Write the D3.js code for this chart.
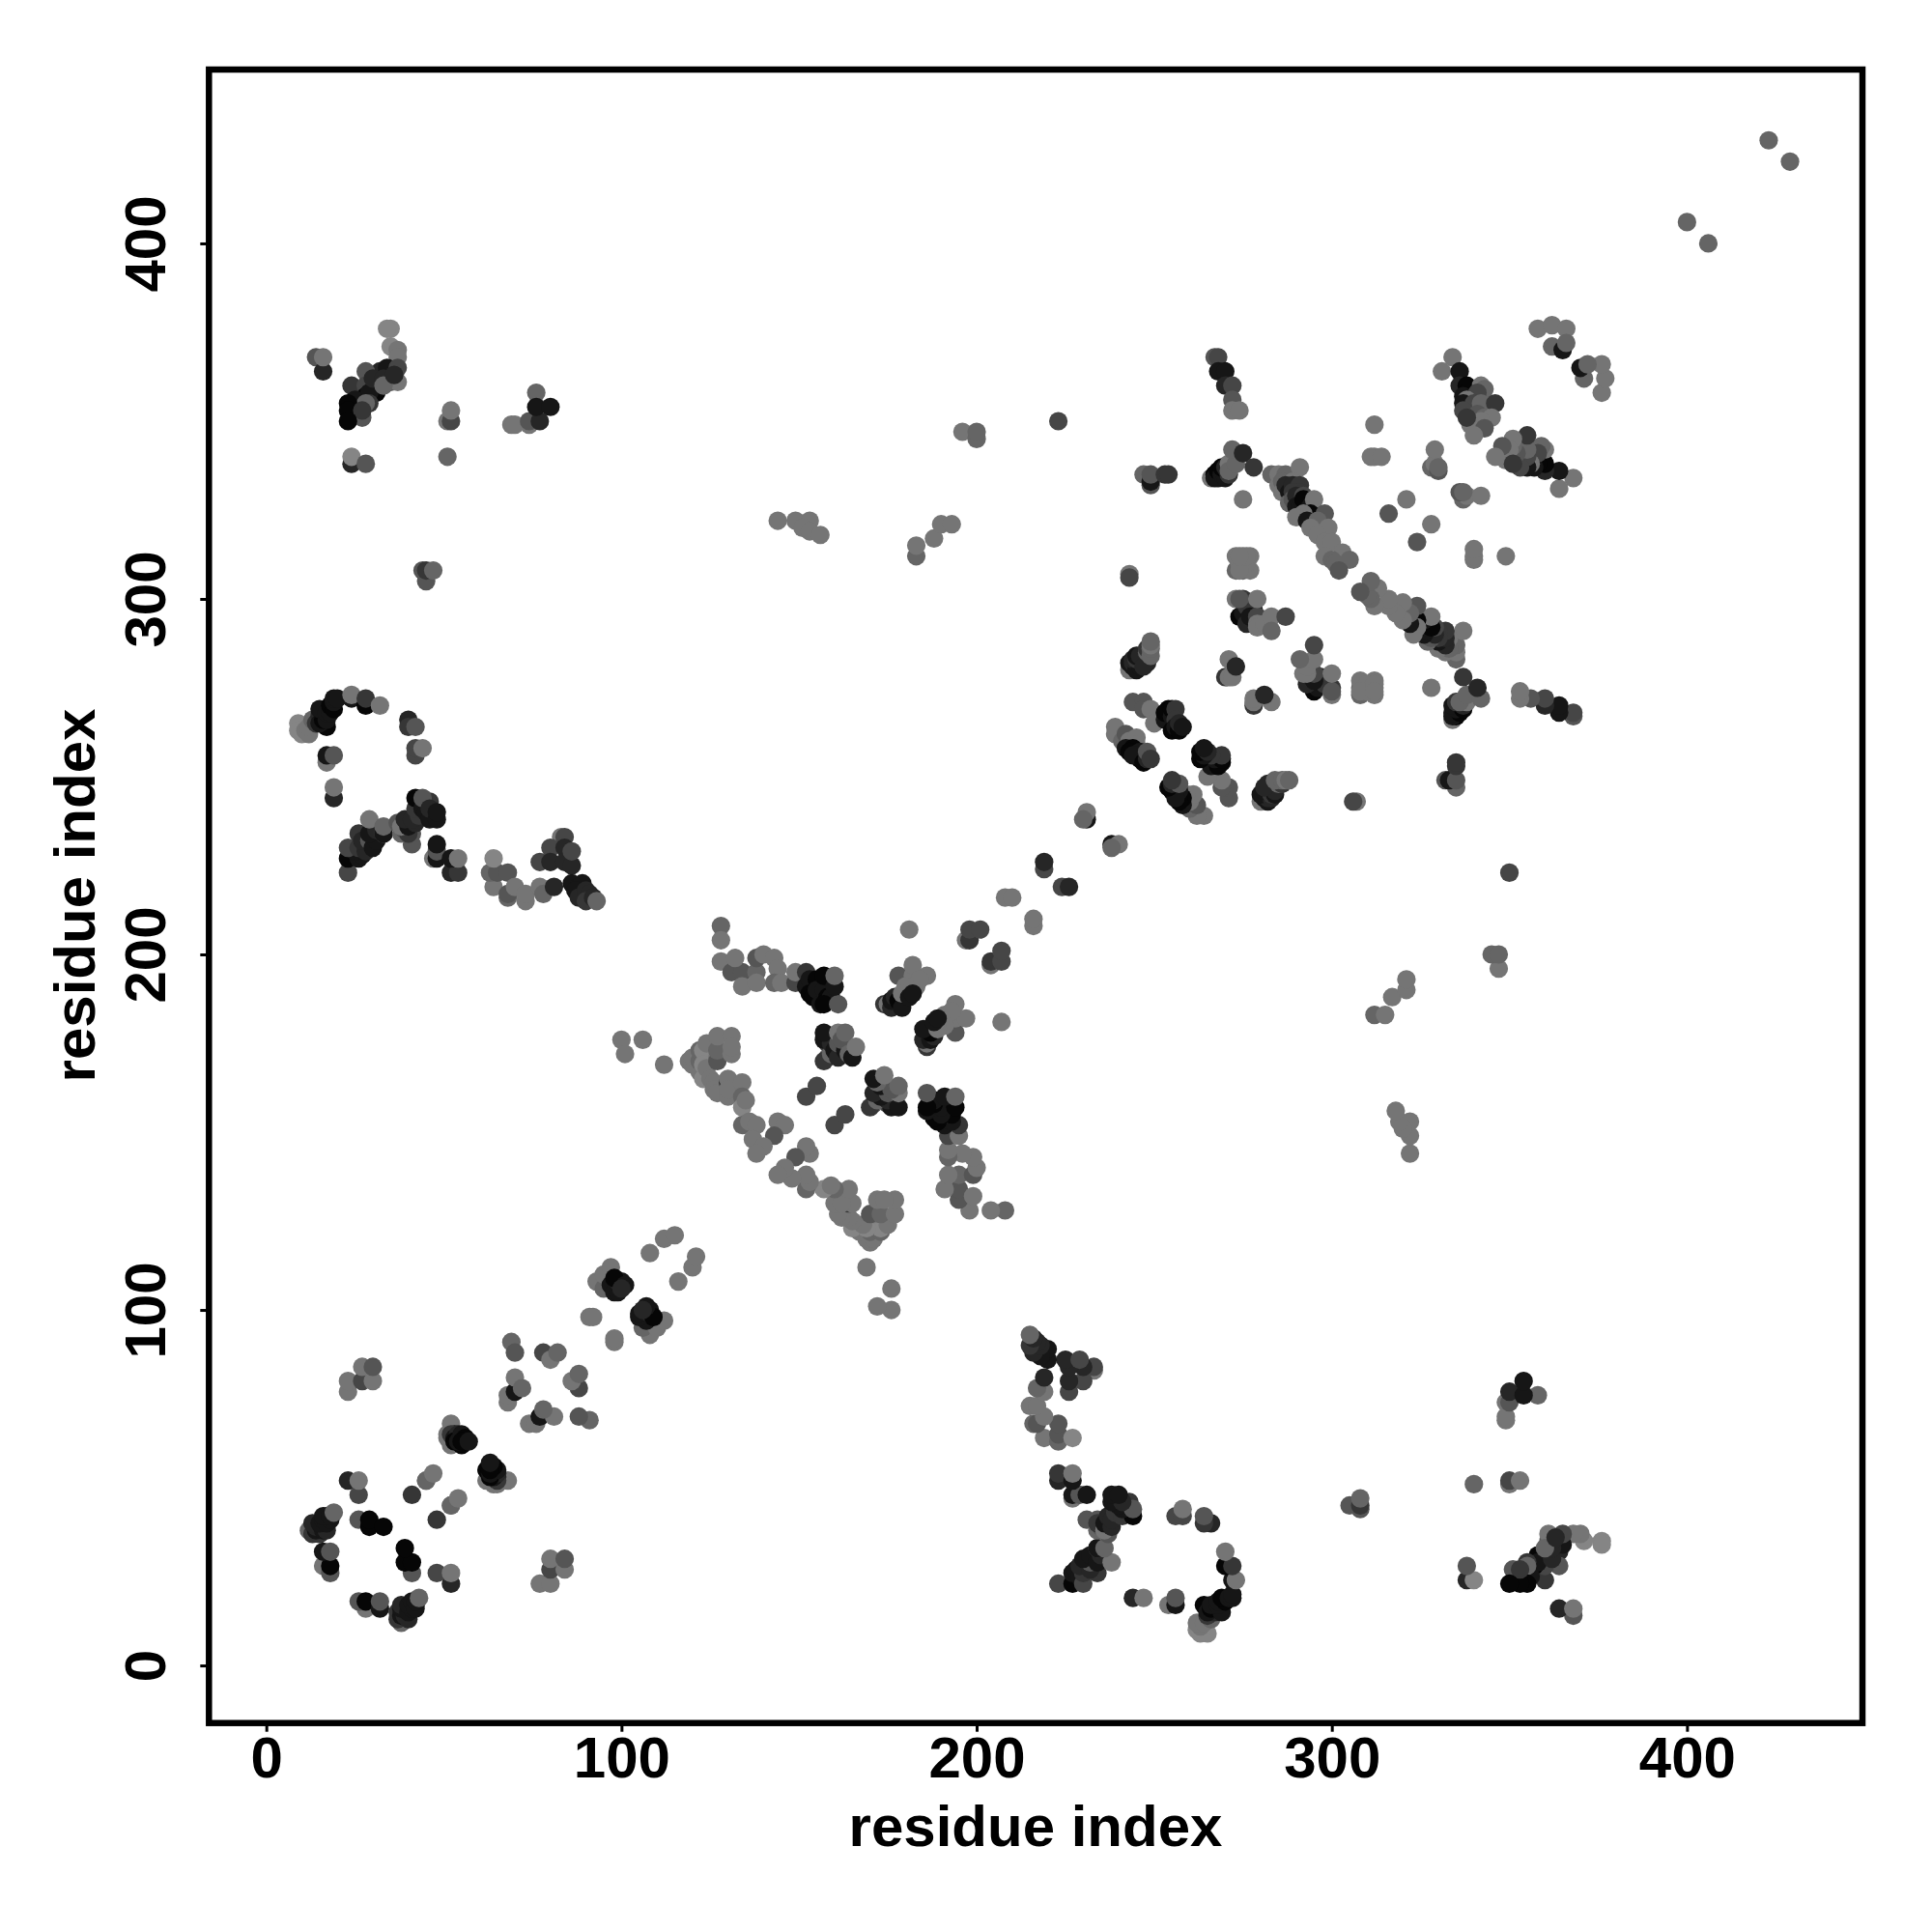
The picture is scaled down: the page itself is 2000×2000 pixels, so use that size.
<!DOCTYPE html>
<html><head><meta charset="utf-8">
<script src="https://cdn.jsdelivr.net/npm/d3@7"></script>
<style>html,body{margin:0;padding:0;background:#fff}svg{display:block}text{font-family:"Liberation Sans",Arial,sans-serif;font-weight:700;fill:#000}</style>
</head><body><svg id="c" width="2000" height="2000"></svg>
<script>
// Each contact: [residue i, residue j, shade level 0 (black) .. 8 (mid grey)]. Mirrored at draw time.
const xyTicks=[0,100,200,300,400];
const axisLabel="residue index";
const nTermVsCTerm=[[14,368,5],[16,364,2],[16,368,7],[35,376,8],[34,376,8],[35,371,8],[37,370,7],[37,368,7],[32,364,2],[34,365,1],[37,365,4],[35,361,5],[37,361,7],[28,364,5],[24,360,3],[28,360,4],[31,360,0],[31,358,0],[28,357,0],[26,354,1],[29,358,1],[30,362,2],[33,362,2],[26,352,2],[25,356,1],[29,355,3],[27,351,5],[33,360,6],[36,363,2],[28,355,6],[23,355,0],[23,353,0],[27,353,3],[23,350,0],[24,338,2],[24,340,8],[28,338,5],[51,350,7],[52,350,4],[52,353,7],[51,340,6],[76,358,6],[74,349,7],[69,349,7],[70,349,7],[74,350,5],[77,350,2],[76,354,1],[80,354,1],[44,308,5],[45,305,5],[45,308,3],[47,308,6]];
const nTermVsMiddle=[[9,265,8],[10,262,8],[9,263,8],[11,263,7],[12,262,7],[12,264,7],[13,266,6],[14,266,6],[14,265,3],[17,264,0],[15,267,2],[15,265,1],[16,266,0],[15,269,1],[17,266,1],[17,268,1],[18,268,1],[18,270,0],[19,269,0],[19,271,1],[19,272,1],[20,272,1],[24,272,1],[24,273,7],[28,270,0],[28,272,3],[32,270,7],[40,266,2],[40,264,3],[42,264,5],[42,256,4],[42,258,4],[44,258,7],[17,254,7],[17,256,1],[19,256,5],[19,244,2],[19,247,7],[23,223,4],[23,227,0],[26,227,1],[27,228,1],[25,229,1],[23,230,4],[26,230,3],[28,229,2],[26,234,3],[27,232,2],[29,232,5],[30,230,1],[31,232,1],[29,234,1],[31,235,2],[29,238,7],[33,234,5],[33,234,1],[33,236,6],[41,231,5],[38,234,6],[41,234,5],[39,235,5],[40,234,3],[37,237,5],[38,236,7],[40,236,1],[42,237,2],[39,238,2],[41,238,2],[43,239,3],[42,241,3],[42,244,0],[44,241,1],[45,240,1],[46,238,1],[46,243,3],[44,244,5],[46,241,2],[48,238,1],[48,240,1],[47,227,7],[48,227,1],[48,229,5],[48,231,1],[52,223,2],[54,223,3],[52,227,1],[54,227,7],[64,219,7],[63,223,6],[65,223,5],[68,223,5],[64,227,8],[68,216,6],[68,217,5],[70,219,7],[73,215,7],[73,217,7],[77,219,7],[78,217,6],[81,219,2],[83,233,7],[84,233,4],[80,230,4],[84,230,2],[77,226,4],[80,226,2],[84,226,2],[86,225,2],[86,229,4],[86,220,1],[88,219,1],[89,220,1],[87,218,1],[88,216,2],[90,218,2],[91,217,2],[90,215,3],[92,216,2],[93,215,6]];
const nearDiagonalLow=[[12,38,6],[13,37,3],[15,37,3],[14,38,1],[14,39,2],[13,40,2],[16,38,1],[17,38,2],[15,40,1],[16,41,1],[17,40,1],[17,42,1],[18,41,1],[16,42,1],[18,42,1],[19,43,6],[16,28,7],[18,26,5],[18,28,0],[16,32,1],[18,32,5],[26,41,5],[29,39,0],[29,41,0],[33,39,0],[23,52,2],[26,48,4],[26,52,7],[41,48,3],[45,52,7],[45,52,6],[47,54,7],[51,64,7],[51,65,7],[52,62,7],[52,68,7],[53,65,1],[52,65,3],[53,64,1],[54,65,2],[55,62,0],[53,63,0],[54,63,1],[55,65,1],[56,64,0],[55,63,0],[57,63,1],[23,77,7],[23,80,7],[27,80,4],[27,84,7],[30,80,7],[30,84,5],[69,91,6],[70,88,5],[78,88,4],[80,86,7],[82,88,6],[68,74,7],[68,76,7],[70,77,1],[70,81,7],[72,78,6],[91,98,7],[92,98,7],[93,108,7],[95,106,6],[95,110,7],[97,112,7],[97,107,1],[98,105,1],[99,105,1],[99,108,2],[100,108,1],[98,109,0],[101,107,1],[100,106,2],[108,116,7],[112,120,7],[115,121,7]];
const centralUpper=[[100,176,7],[101,172,7],[106,176,7],[112,169,7],[119,170,7],[120,169,7],[120,171,7],[122,167,7],[122,170,6],[122,173,6],[123,173,8],[123,169,8],[123,165,8],[124,168,7],[124,175,7],[125,165,7],[126,164,7],[126,162,7],[127,161,7],[127,171,7],[127,170,5],[127,173,6],[127,177,7],[131,177,7],[131,172,7],[131,174,7],[130,164,3],[130,165,7],[130,160,7],[130,162,7],[134,164,7],[134,160,6],[134,157,8],[134,152,6],[135,159,7],[136,153,7],[138,152,7],[144,153,7],[146,152,7],[143,149,5],[137,148,7],[140,146,7],[138,144,7],[128,208,6],[128,204,7],[128,198,7],[131,195,5],[134,195,5],[134,191,7],[132,199,7],[138,195,6],[138,192,7],[138,199,5],[140,200,7],[143,199,7],[144,196,7],[143,192,6],[145,192,7],[149,192,4],[149,195,7],[152,191,1],[152,195,3],[153,193,1],[153,189,0],[155,193,0],[154,188,0],[155,190,1],[156,186,1],[157,190,1],[158,188,0],[159,188,1],[159,193,1],[157,186,0],[161,186,5],[157,194,0],[160,191,1],[160,194,6],[181,207,7],[197,204,7],[198,204,3],[198,207,4],[201,207,4],[178,194,5],[182,194,7],[182,197,7],[186,194,7],[183,191,7],[184,193,7],[174,186,3],[175,186,7],[176,185,2],[176,187,1],[177,188,2],[178,187,0],[180,191,7],[179,185,1],[179,189,7],[181,188,1],[182,189,1],[152,160,4],[155,163,4],[158,171,6],[158,175,4],[157,170,3],[157,176,1],[159,172,6],[159,175,2],[157,178,1],[160,173,1],[161,171,2],[161,175,5],[161,178,7],[163,173,1],[162,176,5],[163,178,6],[164,172,6],[165,171,1],[166,174,7]];
const middleVsCTerm=[[144,322,7],[149,322,7],[153,322,7],[151,320,7],[153,319,7],[156,318,7],[183,312,6],[183,315,7],[188,317,7],[190,321,7],[193,321,7],[196,347,7],[200,345,6],[200,347,6],[223,350,4],[243,307,7],[243,306,4],[231,238,1],[231,240,7],[230,238,6],[219,224,4],[219,226,2],[208,216,7],[210,216,7],[243,280,7],[244,281,1],[243,282,1],[244,282,2],[245,280,1],[244,283,2],[246,281,1],[245,283,3],[245,284,1],[247,283,2],[248,282,2],[246,284,2],[247,281,2],[248,285,6],[248,286,3],[249,284,6],[249,286,6],[249,287,7],[249,288,6],[247,335,6],[249,332,5],[249,333,1],[249,335,5],[253,335,3],[254,335,3],[244,271,5],[247,271,5],[247,269,5],[249,269,7],[250,265,7],[254,269,0],[254,266,1],[253,266,1],[253,268,0],[255,267,1],[255,269,0],[256,269,3],[256,266,3],[255,263,0],[256,264,1],[257,263,0],[257,265,2],[258,264,1],[239,264,7],[239,262,7],[241,260,6],[242,262,5],[243,260,7],[245,261,7],[245,259,7],[242,258,1],[244,258,0],[243,257,0],[245,256,1],[246,255,0],[246,257,1],[247,256,2],[244,256,1],[247,254,0],[248,255,2],[248,257,5],[249,255,3]];
const cTermBlocks=[[266,334,7],[267,335,0],[267,334,1],[268,334,1],[268,336,0],[269,335,1],[270,334,1],[269,337,0],[270,337,2],[271,335,3],[271,338,7],[271,336,6],[273,338,6],[272,342,6],[275,341,2],[278,337,3],[267,368,5],[268,368,4],[268,364,1],[270,364,1],[270,360,2],[272,360,4],[272,356,5],[272,353,7],[274,353,7],[275,328,7],[270,278,3],[271,278,7],[272,278,7],[271,283,7],[273,281,2],[283,335,6],[285,335,7],[287,335,6],[291,337,7],[285,332,7],[286,333,6],[286,330,7],[289,333,7],[287,332,2],[288,330,1],[289,332,2],[291,332,3],[291,330,3],[288,327,6],[289,330,3],[289,328,5],[290,329,2],[292,329,4],[290,326,1],[291,326,1],[292,327,1],[292,328,0],[294,326,1],[295,328,7],[294,324,0],[292,324,7],[298,324,5],[290,323,7],[293,322,1],[296,322,6],[294,320,7],[299,320,7],[296,318,7],[298,316,7],[300,316,7],[298,312,7],[303,313,7],[300,311,6],[301,310,6],[305,311,6],[302,308,5],[273,308,6],[275,308,6],[277,308,7],[273,312,7],[275,312,7],[277,312,7],[274,310,7],[276,310,7],[274,295,0],[275,296,1],[276,293,2],[278,297,2],[276,298,3],[277,295,1],[275,300,3],[273,300,7],[274,300,5],[279,295,4],[279,300,7],[279,293,7],[279,292,7],[281,293,7],[283,295,7],[283,291,6],[287,295,4],[274,308,7],[276,312,7],[274,312,7],[312,349,7],[311,340,7],[312,340,7],[314,340,7],[328,337,6],[329,338,7],[329,342,7],[330,336,5],[330,337,6],[321,328,7],[316,324,5],[334,368,7],[331,364,7],[336,364,1],[336,360,2],[338,360,0],[342,360,7],[343,359,6],[338,358,0],[337,357,1],[339,356,1],[341,358,4],[338,356,7],[339,354,6],[337,355,1],[340,355,4],[342,355,6],[346,355,3],[337,353,4],[341,352,5],[343,351,6],[345,351,7],[342,350,7],[339,349,7],[340,348,7],[343,348,5],[338,351,3],[340,346,7],[358,376,7],[362,377,7],[366,376,7],[362,371,6],[365,370,1],[366,372,6],[400,406,6],[423,429,6]];
const contacts=[...nTermVsCTerm,...nTermVsMiddle,...nearDiagonalLow,...centralUpper,...middleVsCTerm,...cTermBlocks];

const svg=d3.select("#c");
const F={l:216.3,r:1928,t:72,b:1783.7};
const x=d3.scaleLinear().domain([-16.15,449.4]).range([F.l,F.r]);
const y=d3.scaleLinear().domain([-16.2,448.9]).range([F.b,F.t]);
const shade=d3.scaleLinear().domain([0,8]).range(["#060606","#858585"]);

const pts=contacts.flatMap(([i,j,s])=>[{a:i,b:j,s},{a:j,b:i,s}]);
svg.append("g").selectAll("circle").data(pts).join("circle")
  .attr("cx",d=>x(d.a)).attr("cy",d=>y(d.b)).attr("r",9.6).attr("fill",d=>shade(d.s));

const ax=svg.append("g").attr("transform",`translate(0,${F.b})`).call(d3.axisBottom(x).tickValues(xyTicks).tickSize(9).tickPadding(0));
ax.select(".domain").remove();
ax.selectAll("line").attr("stroke","#000").attr("stroke-width",3);
ax.selectAll("text").attr("dy",null).attr("y",56).attr("text-anchor","middle").style("font-size","60px");
const ay=svg.append("g").attr("transform",`translate(${F.l},0)`).call(d3.axisLeft(y).tickValues(xyTicks).tickSize(9).tickPadding(0));
ay.select(".domain").remove();
ay.selectAll("line").attr("stroke","#000").attr("stroke-width",3);
ay.selectAll("text").attr("dy",null).attr("x",null).attr("y",null)
  .attr("transform","translate(-45,0) rotate(-90)").attr("text-anchor","middle").style("font-size","60px");

svg.append("rect").attr("x",F.l).attr("y",F.t).attr("width",F.r-F.l).attr("height",F.b-F.t)
  .attr("fill","none").attr("stroke","#000").attr("stroke-width",6.5);
svg.append("text").attr("x",1072).attr("y",1911).attr("text-anchor","middle").style("font-size","60px").text(axisLabel);
svg.append("text").attr("transform","translate(98,927) rotate(-90)").attr("text-anchor","middle").style("font-size","60px").text(axisLabel);
</script></body></html>
